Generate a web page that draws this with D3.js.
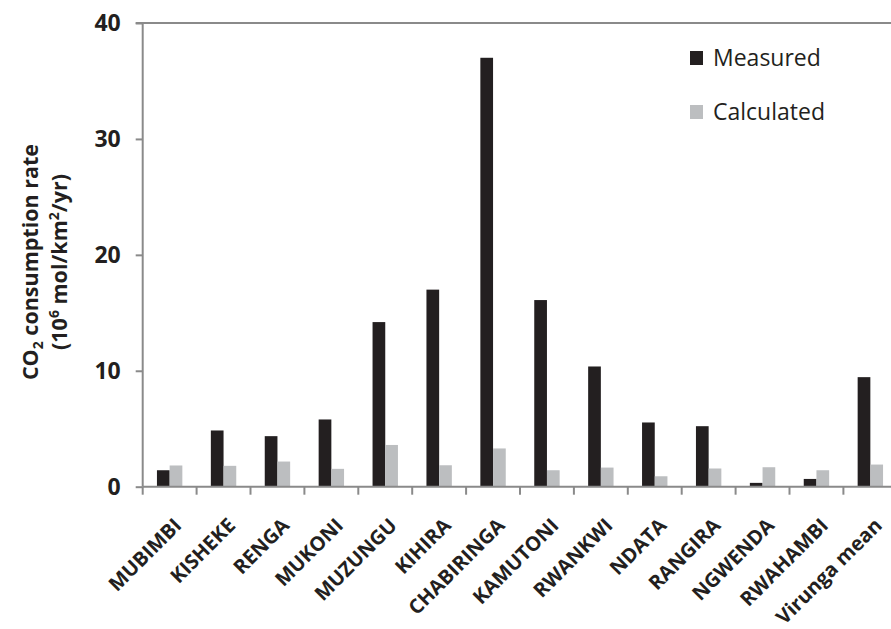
<!DOCTYPE html>
<html>
<head>
<meta charset="utf-8">
<script src="https://cdn.jsdelivr.net/npm/d3@7"></script>
<style>
  html, body { margin: 0; padding: 0; background: #fff; }
  svg { display: block; }
  text { font-family: "Open Sans", sans-serif; fill: #231f20; }
</style>
</head>
<body>
<svg id="chart" width="891" height="629"></svg>
<script>
// Sites (catchments) and mean
const categories = ["MUBIMBI", "KISHEKE", "RENGA", "MUKONI", "MUZUNGU", "KIHIRA", "CHABIRINGA",
  "KAMUTONI", "RWANKWI", "NDATA", "RANGIRA", "NGWENDA", "RWAHAMBI", "Virunga mean"];
// CO2 consumption rate, 10^6 mol/km2/yr
const measured   = [1.42, 4.85, 4.36, 5.8, 14.2, 17.0, 37.0, 16.1, 10.37, 5.54, 5.22, 0.33, 0.67, 9.45];
const calculated = [1.83, 1.8, 2.17, 1.54, 3.6, 1.85, 3.3, 1.42, 1.65, 0.9, 1.57, 1.68, 1.42, 1.91];
const seriesNames = ["Measured", "Calculated"];
const seriesColors = ["#231f20", "#bcbec0"];
const yTicks = [0, 10, 20, 30, 40];

const svg = d3.select("#chart");
const plotLeft = 142.7, plotRight = 897.3, plotTop = 23, plotBottom = 486.7;

const x = d3.scaleBand().domain(categories).range([plotLeft, plotRight]).paddingInner(0).paddingOuter(0);
const y = d3.scaleLinear().domain([0, 40]).range([plotBottom, plotTop]);
const barW = x.bandwidth() * 0.2356;
const sub = d3.scaleBand().domain(seriesNames).range([-barW, barW]);

const axisColor = "#8a8a8a";

// top reference line at the axis maximum
svg.append("line")
  .attr("x1", plotLeft - 7).attr("x2", 891)
  .attr("y1", y(40)).attr("y2", y(40))
  .attr("stroke", axisColor).attr("stroke-width", 2);

// bars
const rows = categories.map((c, i) => ({ c, vals: [measured[i], calculated[i]] }));
const groups = svg.append("g").selectAll("g").data(rows).join("g")
  .attr("transform", d => `translate(${x(d.c) + x.bandwidth() / 2},0)`);
groups.selectAll("rect")
  .data(d => d.vals.map((v, k) => ({ v, k })))
  .join("rect")
  .attr("x", d => sub(seriesNames[d.k]))
  .attr("width", sub.bandwidth())
  .attr("y", d => y(d.v))
  .attr("height", d => y(0) - y(d.v))
  .attr("fill", d => seriesColors[d.k]);

// y axis
const yAxis = svg.append("g")
  .attr("transform", `translate(${plotLeft},0)`)
  .call(d3.axisLeft(y).tickValues(yTicks).tickSize(7).tickPadding(15).tickFormat(d3.format("d")));
yAxis.select(".domain").attr("stroke", axisColor).attr("stroke-width", 2)
  .attr("d", `M0,${plotTop}V${plotBottom}`);
yAxis.selectAll(".tick line").attr("stroke", axisColor).attr("stroke-width", 2);
yAxis.selectAll(".tick text")
  .style("font-family", "'Open Sans', sans-serif")
  .style("font-size", "23px").style("font-weight", "bold").attr("fill", "#231f20");

// x axis with boundary ticks
const xAxisG = svg.append("g");
xAxisG.append("line")
  .attr("x1", plotLeft).attr("x2", 891).attr("y1", plotBottom).attr("y2", plotBottom)
  .attr("stroke", axisColor).attr("stroke-width", 2);
xAxisG.selectAll("line.tk")
  .data(categories)
  .join("line").attr("class", "tk")
  .attr("x1", d => x(d)).attr("x2", d => x(d))
  .attr("y1", plotBottom).attr("y2", plotBottom + 8)
  .attr("stroke", axisColor).attr("stroke-width", 2);

// category labels, rotated
xAxisG.selectAll("text.cat")
  .data(categories)
  .join("text").attr("class", "cat")
  .attr("text-anchor", "end")
  .attr("transform", d => `translate(${x(d) + x.bandwidth() / 2 + 13},${plotBottom + 40}) rotate(-45)`)
  .style("font-size", "20px").style("font-weight", "bold")
  .text(d => d);

// y axis title
const title = svg.append("g")
  .attr("transform", "translate(38,262) rotate(-90)");
const t1 = title.append("text").attr("text-anchor", "middle")
  .style("font-size", "21.5px").style("font-weight", "bold");
t1.append("tspan").text("CO");
t1.append("tspan").text("2").style("font-size", "14px").attr("dy", 5);
t1.append("tspan").text(" consumption rate").attr("dy", -5);
const t2 = title.append("text").attr("text-anchor", "middle").attr("y", 29)
  .style("font-size", "21.5px").style("font-weight", "bold");
t2.append("tspan").text("(10");
t2.append("tspan").text("6").style("font-size", "14px").attr("dy", -8);
t2.append("tspan").text(" mol/km").attr("dy", 8);
t2.append("tspan").text("2").style("font-size", "14px").attr("dy", -8);
t2.append("tspan").text("/yr)").attr("dy", 8);

// legend
const legend = svg.append("g").selectAll("g").data(seriesNames).join("g")
  .attr("transform", (d, i) => `translate(690,${51 + i * 54})`);
legend.append("rect").attr("width", 13).attr("height", 14)
  .attr("fill", (d, i) => seriesColors[i]);
legend.append("text").attr("x", 23).attr("y", 15)
  .style("font-size", "23px")
  .text(d => d);
</script>
</body>
</html>
